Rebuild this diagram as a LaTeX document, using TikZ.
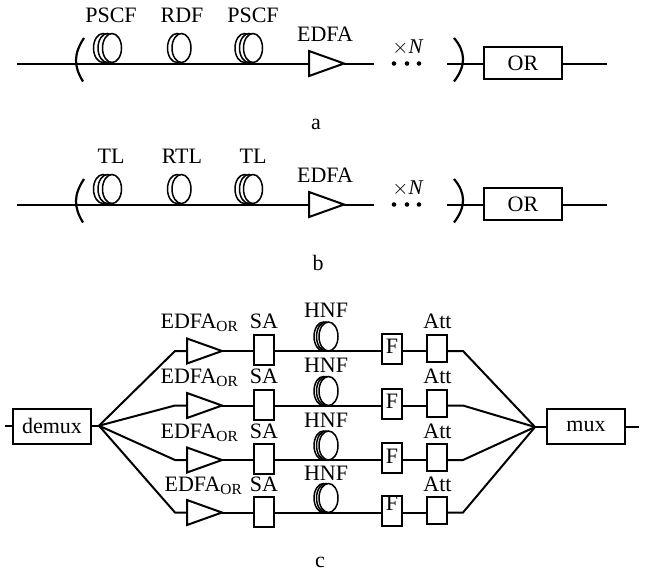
\documentclass[tikz,border=0pt]{standalone}
\usepackage{fontspec}
\setmainfont{Liberation Serif}
\usetikzlibrary{shapes.geometric}
\tikzset{
  wire/.style={line width=2pt,line join=miter},
  txt/.style={font=\fontsize{22}{22}\selectfont,inner sep=0pt,anchor=base},
  sm/.style={font=\fontsize{21}{21}\selectfont,inner sep=0pt,anchor=base},
  amp/.style={draw,line width=2pt,shape=isosceles triangle,isosceles triangle stretches,shape border rotate=0,minimum width=25pt,minimum height=35pt,inner sep=0pt,outer sep=0pt,anchor=lower side},
  box/.style={draw,line width=2pt,rectangle,inner sep=0pt,font=\fontsize{22}{22}\selectfont},
  ring/.style={draw,line width=1.5pt,fill=white,shape=ellipse,inner sep=0pt,minimum width=19pt,minimum height=29pt},
  bracket/.style={line width=2.2pt},
  dotpt/.style={fill,shape=circle,inner sep=0pt,minimum size=4.6pt}
}
\begin{document}
\begin{tikzpicture}[x=1pt,y=-1pt]
\useasboundingbox (0,0) rectangle (647,574);
% ---- panels a and b
\foreach \p/\dy/\la/\lb/\lc/\cap/\capx in {a/0/PSCF/RDF/PSCF/a/316,b/141/TL/RTL/TL/b/318}{
  \begin{scope}[yshift=-\dy pt]
  \foreach \n/\cx in {1/103,2/107.5,3/112}{\node[ring] (\p c1\n) at (\cx,48) {};}
  \foreach \n/\cx in {1/177,2/181.5}{\node[ring] (\p c2\n) at (\cx,48) {};}
  \foreach \n/\cx in {1/244.5,2/249,3/253}{\node[ring] (\p c3\n) at (\cx,48) {};}
  \coordinate (\p s) at (17,63.5);
  \node[amp] (\p amp) at (309,63.5) {};
  \coordinate (\p e) at (374,63.5);
  \coordinate (\p r) at (447,63.5);
  \node[box,minimum width=78pt,minimum height=32pt] (\p or) at (523,63) {OR};
  \coordinate (\p f) at (607,63.5);
  \draw[wire] (\p s) -- (\p amp.lower side);
  \draw[wire] (\p amp.apex) -- (\p e);
  \draw[wire] (\p r) -- (\p or.west|-\p r);
  \draw[wire] (\p or.east|-\p f) -- (\p f);
  \coordinate (\p b1) at (84,38);
  \coordinate (\p b2) at (83,81.5);
  \coordinate (\p b3) at (454,38);
  \coordinate (\p b4) at (454,81.5);
  \draw[bracket] (\p b1) .. controls (73.5,54) and (73.5,66) .. (\p b2);
  \draw[bracket] (\p b3) .. controls (466,52) and (466,66) .. (\p b4);
  \foreach \n/\cx in {1/394,2/407,3/419}{\node[dotpt] (\p d\n) at (\cx,63.5) {};}
  \node[txt] (\p t1) at (111,22) {\la};
  \node[txt] (\p t2) at (182,22) {\lb};
  \node[txt] (\p t3) at (253,22) {\lc};
  \node[txt] (\p t4) at (325,41) {EDFA};
  \node[sm] (\p t5) at (408,53) {$\times$\textit{N}};
  \node[txt] (\p t6) at (\capx,129) {\cap};
  \end{scope}
}
% ---- panel c
\node[box,minimum width=78pt,minimum height=35pt] (demux) at (52,426) {demux};
\node[box,minimum width=78pt,minimum height=35pt] (mux) at (586,426.5) {mux};
\coordinate (jl) at (99,425.7);
\coordinate (jr) at (535,427);
\coordinate (sl) at (5,425.7);
\coordinate (sr) at (639,427);
\draw[wire] (sl) -- (demux.west|-sl);
\draw[wire] (demux.east|-jl) -- (jl);
\draw[wire] (mux.west|-jr) -- (jr);
\draw[wire] (mux.east|-sr) -- (sr);
\foreach \r/\y/\ybase/\ex/\fb in {1/351/328/199.5/353,2/405.5/383/199.5/408,3/460/438/199.5/463,4/512.5/491/203.5/510}{
  \foreach \n/\cx in {1/323.5,2/326,3/328.5}{\node[ring] (c\r\n) at (\cx,\y-14.5) {};}
  \node[amp] (a\r) at (187,\y) {};
  \coordinate (el\r) at (175,\y);
  \coordinate (er\r) at (463,\y);
  \node[box,minimum width=20pt,minimum height=30pt] (sa\r) at (264,\y-1) {};
  \node[box,minimum width=20pt,minimum height=30pt] (f\r) at (392,\y-2) {};
  \node[box,minimum width=20pt,minimum height=27pt] (att\r) at (437,\y-2.5) {};
  \draw[wire] (jl) -- (el\r) -- (a\r.lower side);
  \draw[wire] (a\r.apex) -- (sa\r.west|-el\r);
  \draw[wire] (sa\r.east|-el\r) -- (f\r.west|-el\r);
  \draw[wire] (f\r.east|-el\r) -- (att\r.west|-el\r);
  \draw[wire] (att\r.east|-el\r) -- (er\r) -- (jr);
  \node[txt] (fl\r) at (392,\fb) {F};
  \node[txt] (sal\r) at (264,\ybase) {SA};
  \node[txt] (hl\r) at (326,\ybase-11) {HNF};
  \node[txt] (al\r) at (437.5,\ybase) {Att};
  \node[txt] (el\r t) at (\ex,\ybase) {EDFA\textsubscript{OR}};
}
\node[txt] (capc) at (320,567) {c};
\end{tikzpicture}
\end{document}
